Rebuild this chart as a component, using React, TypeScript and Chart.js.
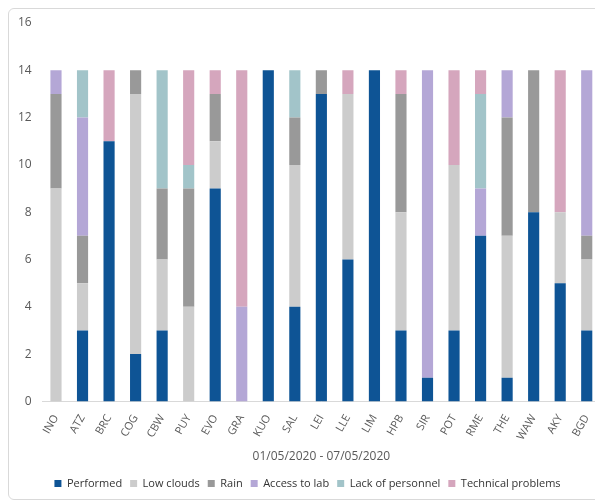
import { useEffect, useRef } from "react";
import { Chart, registerables } from "chart.js";

Chart.register(...registerables);

const stations = ["INO", "ATZ", "BRC", "COG", "CBW", "PUY", "EVO", "GRA", "KUO", "SAL", "LEI", "LLE", "LIM", "HPB", "SIR", "POT", "RME", "THE", "WAW", "AKY", "BGD"];
const performed = [0, 3, 11, 2, 3, 0, 9, 0, 14, 4, 13, 6, 14, 3, 1, 3, 7, 1, 8, 5, 3];
const lowClouds = [9, 2, 0, 11, 3, 4, 2, 0, 0, 6, 0, 7, 0, 5, 0, 7, 0, 6, 0, 3, 3];
const rain = [4, 2, 0, 1, 3, 5, 2, 0, 0, 2, 1, 0, 0, 5, 0, 0, 0, 5, 6, 0, 1];
const accessToLab = [1, 5, 0, 0, 0, 0, 0, 4, 0, 0, 0, 0, 0, 0, 13, 0, 2, 2, 0, 0, 7];
const lackOfPersonnel = [0, 2, 0, 0, 5, 1, 0, 0, 0, 2, 0, 0, 0, 0, 0, 0, 4, 0, 0, 0, 0];
const technicalProblems = [0, 0, 3, 0, 0, 4, 1, 10, 0, 0, 0, 1, 0, 1, 0, 4, 1, 0, 0, 6, 0];

const series = [
  { label: "Performed", data: performed, color: "#0e5495" },
  { label: "Low clouds", data: lowClouds, color: "#cccccc" },
  { label: "Rain", data: rain, color: "#999999" },
  { label: "Access to lab", data: accessToLab, color: "#b4a7d6" },
  { label: "Lack of personnel", data: lackOfPersonnel, color: "#a2c4c9" },
  { label: "Technical problems", data: technicalProblems, color: "#d5a6bd" },
];

export default function App() {
  const canvasRef = useRef<HTMLCanvasElement>(null);

  useEffect(() => {
    const canvas = canvasRef.current;
    if (!canvas) return;
    Chart.defaults.font.family = "'Open Sans', sans-serif";
    Chart.defaults.color = "#595959";

    const chart = new Chart(canvas, {
      type: "bar",
      data: {
        labels: stations,
        datasets: series.map((s) => ({
          label: s.label,
          data: s.data,
          backgroundColor: s.color,
          barPercentage: 0.42,
          categoryPercentage: 1,
        })),
      },
      options: {
        animation: false,
        responsive: true,
        maintainAspectRatio: false,
        layout: { padding: { top: 14, right: 2, left: 6, bottom: 0 } },
        scales: {
          x: {
            stacked: true,
            grid: { display: false },
            border: { color: "#d9d9d9" },
            ticks: { maxRotation: 60, minRotation: 60, font: { size: 11 } },
            title: { display: true, text: "01/05/2020 - 07/05/2020", font: { size: 12 }, padding: { top: 4, bottom: 6 } },
          },
          y: {
            stacked: true,
            min: 0,
            max: 16,
            ticks: { stepSize: 2, font: { size: 12 } },
            grid: { display: false },
            border: { display: false },
          },
        },
        plugins: {
          legend: {
            position: "bottom",
            labels: { boxWidth: 7, boxHeight: 7, padding: 8, font: { size: 11 }, color: "#333" },
          },
          tooltip: { enabled: false },
        },
      },
    });
    return () => chart.destroy();
  }, []);

  return (
    <div style={{ width: 595, height: 492, border: "1px solid #d9d9d9", borderRadius: 6, boxSizing: "border-box", background: "#fff" }}>
      <canvas ref={canvasRef} />
    </div>
  );
}
